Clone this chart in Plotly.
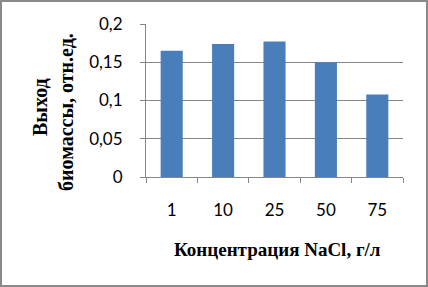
import plotly.graph_objects as go

categories = ["1", "10", "25", "50", "75"]
values = [0.165, 0.174, 0.177, 0.150, 0.108]
y_ticks = [0, 0.05, 0.1, 0.15, 0.2]
y_tick_labels = ["0", "0,05", "0,1", "0,15", "0,2"]
x_title = "Концентрация NaCl, г/л"
y_title_1 = "Выход"
y_title_2 = "биомассы, отн.ед."

W, H = 428, 287
L, R, T, B = 146, 25, 24, 110
pw, ph = W - L - R, H - T - B

def px(x):
    return (x - L) / pw

def py(y):
    return (H - B - y) / ph

fig = go.Figure(go.Bar(x=categories, y=values, marker_color="#4A7EBB",
                       marker_line_width=0, width=0.43))

tick_font = dict(family="Lato", size=17, color="#000000")

fig.update_layout(
    width=W, height=H,
    margin=dict(l=L, r=R, t=T, b=B),
    paper_bgcolor="white", plot_bgcolor="white",
    showlegend=False,
    font=dict(family="Lato", size=17, color="#000000"),
    xaxis=dict(type="category", tickson="boundaries", ticks="outside", ticklen=5,
               tickcolor="#868686", showline=True, linecolor="#868686",
               showgrid=False, ticklabelstandoff=18, tickfont=tick_font),
    yaxis=dict(range=[0, 0.2], tickvals=y_ticks, ticktext=y_tick_labels,
               ticks="outside", ticklen=5, tickcolor="#868686",
               showline=True, linecolor="#868686",
               showgrid=True, gridcolor="#868686", gridwidth=1,
               zeroline=False, ticklabelstandoff=14, tickfont=tick_font),
    annotations=[
        dict(text=f"<b>{x_title}</b>", xref="paper", yref="paper",
             x=px(277), y=py(249), showarrow=False, xanchor="center", yanchor="middle",
             font=dict(family="Liberation Serif", size=19, color="#000000")),
        dict(text=f"<b>{y_title_1}</b>", xref="paper", yref="paper",
             x=px(40), y=py(107), showarrow=False, textangle=-90,
             xanchor="center", yanchor="middle",
             font=dict(family="Liberation Serif", size=20, color="#000000")),
        dict(text=f"<b>{y_title_2}</b>", xref="paper", yref="paper",
             x=px(66), y=py(112), showarrow=False, textangle=-90,
             xanchor="center", yanchor="middle",
             font=dict(family="Liberation Serif", size=20, color="#000000")),
    ],
    shapes=[
        dict(type="rect", xref="paper", yref="paper",
             x0=px(1), x1=px(427), y0=py(286), y1=py(1),
             line=dict(color="#8A8A8A", width=2), layer="above"),
    ],
)

fig.write_html("out.html", config={"displayModeBar": False},
               post_script="document.body.style.margin='0';document.body.style.overflow='hidden';")
